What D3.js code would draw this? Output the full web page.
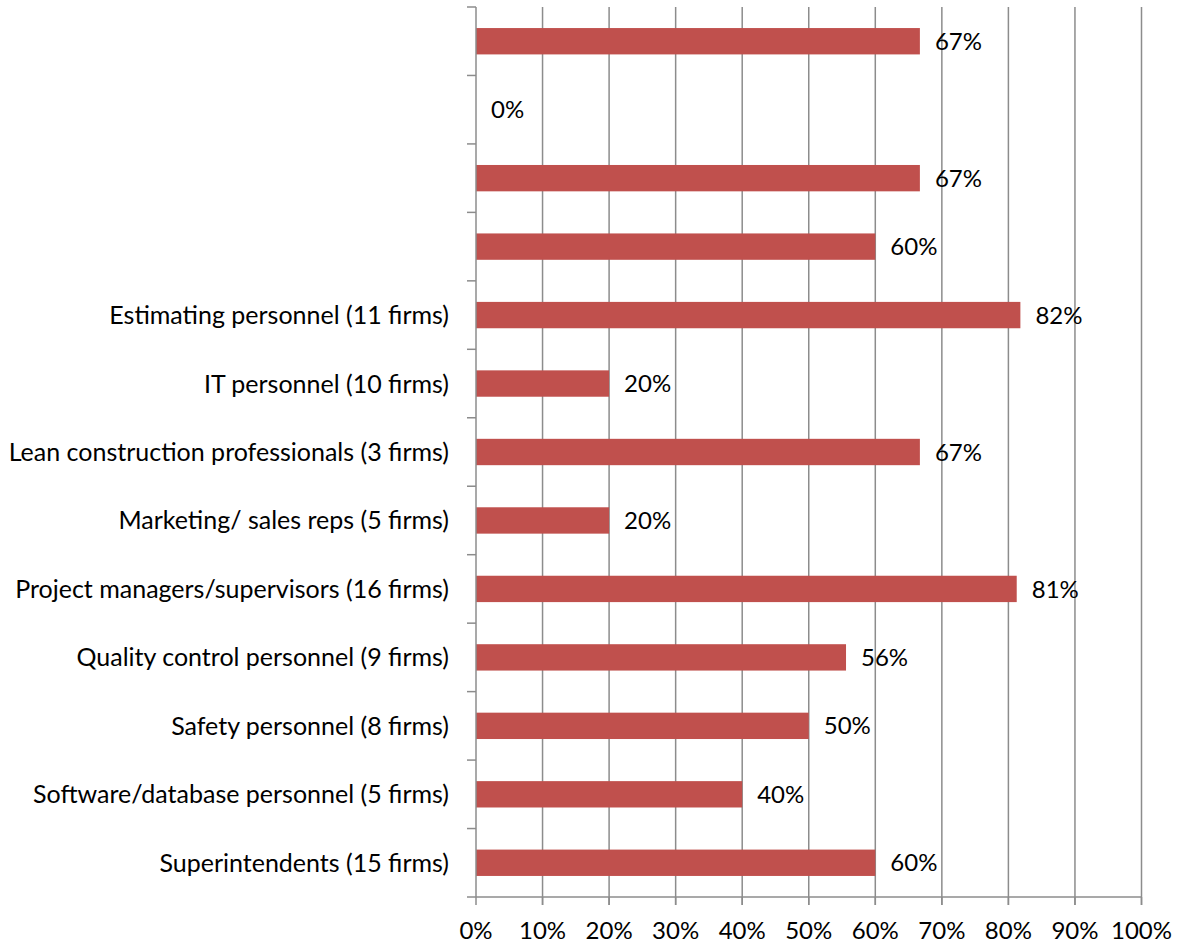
<!DOCTYPE html>
<html><head><meta charset="utf-8">
<script src="https://cdn.jsdelivr.net/npm/d3@7"></script>
<style>body{margin:0;background:#fff}svg{display:block}text{font-family:Lato,"Open Sans",sans-serif;fill:#000}</style>
</head><body><svg id="c" width="1191" height="943"></svg>
<script>
const categories = ["", "", "", "", "Estimating personnel (11 firms)", "IT personnel (10 firms)", "Lean construction professionals (3 firms)", "Marketing/ sales reps (5 firms)", "Project managers/supervisors (16 firms)", "Quality control personnel (9 firms)", "Safety personnel (8 firms)", "Software/database personnel (5 firms)", "Superintendents (15 firms)"];
const values = [66.7, 0, 66.7, 60, 81.8, 20, 66.7, 20, 81.25, 55.6, 50, 40, 60];
const xTicks = [0, 10, 20, 30, 40, 50, 60, 70, 80, 90, 100];

const svg = d3.select("#c");
const L = 476, R = 1141.5, T = 7, B = 897;
const x = d3.scaleLinear().domain([0, 100]).range([L, R]);
const idx = categories.map((d, i) => i);
const y = d3.scaleBand().domain(idx).range([T, B]).paddingInner(0.615).paddingOuter(0.3075);
const yb = d3.scaleBand().domain(idx).range([T, B]);

svg.append("g").selectAll("line").data(xTicks.slice(1)).join("line")
  .attr("x1", d => x(d)).attr("x2", d => x(d)).attr("y1", T).attr("y2", B + 8)
  .attr("stroke", "#8c8c8c").attr("stroke-width", 1.5);

svg.append("g").selectAll("rect").data(values).join("rect")
  .attr("x", L).attr("y", (d, i) => y(i)).attr("width", d => x(d) - L).attr("height", y.bandwidth())
  .attr("fill", "#c0504d");

svg.append("g").selectAll("text").data(values).join("text")
  .attr("x", d => x(d) + 15).attr("y", (d, i) => y(i) + y.bandwidth() / 2)
  .attr("dy", "0.36em").attr("font-size", 24)
  .text(d => Math.round(d) + "%");

const g = svg.append("g");
g.append("line").attr("x1", L).attr("x2", L).attr("y1", T).attr("y2", B).attr("stroke", "#8c8c8c").attr("stroke-width", 1.5);
g.selectAll("line.t").data(idx.concat([categories.length])).join("line").attr("class", "t")
  .attr("x1", L - 9).attr("x2", L).attr("y1", d => d < categories.length ? yb(d) : B).attr("y2", d => d < categories.length ? yb(d) : B)
  .attr("stroke", "#8c8c8c").attr("stroke-width", 1.5);
g.selectAll("text").data(categories).join("text")
  .attr("x", L - 27).attr("y", (d, i) => yb(i) + yb.bandwidth() / 2).attr("dy", "0.36em")
  .attr("text-anchor", "end").attr("font-size", 25).text(d => d);

const gx = svg.append("g");
gx.append("line").attr("x1", L).attr("x2", R).attr("y1", B).attr("y2", B).attr("stroke", "#8c8c8c").attr("stroke-width", 1.5);
gx.selectAll("line.t").data(xTicks).join("line").attr("class", "t")
  .attr("x1", d => x(d)).attr("x2", d => x(d)).attr("y1", B).attr("y2", B + 8)
  .attr("stroke", "#8c8c8c").attr("stroke-width", 1.5);
gx.selectAll("text").data(xTicks).join("text")
  .attr("x", d => x(d)).attr("y", 930).attr("dy", "0.36em").attr("text-anchor", "middle")
  .attr("font-size", 24).text(d => d + "%");
</script></body></html>
